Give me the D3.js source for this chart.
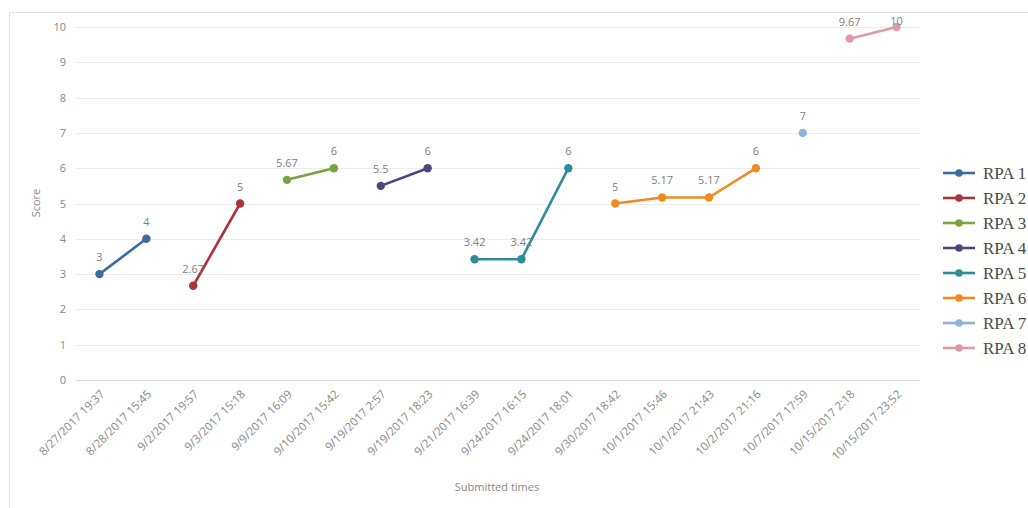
<!DOCTYPE html>
<html>
<head>
<meta charset="utf-8">
<script src="https://cdn.jsdelivr.net/npm/d3@7"></script>
<style>
  html, body { margin: 0; padding: 0; background: #fff; }
  svg { display: block; }
</style>
</head>
<body>
<svg id="chart" width="1028" height="508"></svg>
<script>
const categories = [
  "8/27/2017 19:37", "8/28/2017 15:45", "9/2/2017 19:57", "9/3/2017 15:18",
  "9/9/2017 16:09", "9/10/2017 15:42", "9/19/2017 2:57", "9/19/2017 18:23",
  "9/21/2017 16:39", "9/24/2017 16:15", "9/24/2017 18:01", "9/30/2017 18:42",
  "10/1/2017 15:46", "10/1/2017 21:43", "10/2/2017 21:16", "10/7/2017 17:59",
  "10/15/2017 2:18", "10/15/2017 23:52"
];
const scores = [3, 4, 2.67, 5, 5.67, 6, 5.5, 6, 3.42, 3.42, 6, 5, 5.17, 5.17, 6, 7, 9.67, 10];
const seriesIndex = [0, 0, 1, 1, 2, 2, 3, 3, 4, 4, 4, 5, 5, 5, 5, 6, 7, 7];
const seriesNames = ["RPA 1", "RPA 2", "RPA 3", "RPA 4", "RPA 5", "RPA 6", "RPA 7", "RPA 8"];
const seriesColors = ["#3d6aa0", "#a9343c", "#79a441", "#504579", "#2f8b9a", "#f28a20", "#8fb1da", "#d99ba6"];
const yTicks = [0, 1, 2, 3, 4, 5, 6, 7, 8, 9, 10];

const svg = d3.select("#chart");
const fontSans = "'Open Sans', 'Noto Sans', sans-serif";

// frame
svg.append("rect").attr("x", 9.5).attr("y", 12.5).attr("width", 1030).attr("height", 510)
  .attr("fill", "none").attr("stroke", "#e2e2e2").attr("stroke-width", 1);

const x = d3.scaleBand().domain(categories).range([76, 920]);
const y = d3.scaleLinear().domain([0, 10]).range([380, 27]);
const cx = c => x(c) + x.bandwidth() / 2;

// gridlines
svg.append("g").selectAll("line").data(yTicks).join("line")
  .attr("x1", 76).attr("x2", 920)
  .attr("y1", d => Math.round(y(d)) + 0.5).attr("y2", d => Math.round(y(d)) + 0.5)
  .attr("stroke", d => d === 0 ? "#dcdcdc" : "#ebebeb").attr("stroke-width", 1);

// y axis labels
const yAxis = d3.axisLeft(y).tickValues(yTicks).tickSize(0).tickPadding(0);
const gy = svg.append("g").attr("transform", "translate(66,0)").call(yAxis);
gy.select(".domain").remove();
gy.selectAll("text").attr("font-family", fontSans).attr("font-size", 11).attr("fill", "#888");

// x axis labels
const xAxis = d3.axisBottom(x).tickSize(0).tickPadding(0);
const gx = svg.append("g").attr("transform", "translate(0,388)").call(xAxis);
gx.select(".domain").remove();
gx.selectAll(".tick text")
  .attr("font-family", fontSans).attr("font-size", 11.5).attr("fill", "#888")
  .attr("text-anchor", "end").attr("dy", "0.35em")
  .attr("transform", "translate(3,4) rotate(-45)");

// axis titles
svg.append("text").attr("x", 497).attr("y", 491).attr("text-anchor", "middle")
  .attr("font-family", fontSans).attr("font-size", 11).attr("fill", "#888").text("Submitted times");
svg.append("text").attr("transform", "translate(40,203) rotate(-90)").attr("text-anchor", "middle")
  .attr("font-family", fontSans).attr("font-size", 11).attr("fill", "#888").text("Score");

// series
const points = categories.map((c, i) => ({ cat: c, v: scores[i], s: seriesIndex[i] }));
const groups = d3.groups(points, d => d.s);
const line = d3.line().x(d => cx(d.cat)).y(d => y(d.v));

const gs = svg.append("g");
groups.forEach(([s, pts]) => {
  const g = gs.append("g");
  if (pts.length > 1) {
    g.append("path").datum(pts).attr("d", line)
      .attr("fill", "none").attr("stroke", seriesColors[s]).attr("stroke-width", 2.6)
      .attr("stroke-linejoin", "round");
  }
  g.selectAll("circle").data(pts).join("circle")
    .attr("cx", d => cx(d.cat)).attr("cy", d => y(d.v)).attr("r", 4.2)
    .attr("fill", seriesColors[s]);
  g.selectAll("text").data(pts).join("text")
    .attr("x", d => cx(d.cat)).attr("y", d => Math.max(y(d.v) - 13, 25))
    .attr("text-anchor", "middle")
    .attr("font-family", fontSans).attr("font-size", 11).attr("fill", "#808080")
    .text(d => d.v);
});

// legend
const lg = svg.append("g");
seriesNames.forEach((n, i) => {
  const ly = 173 + i * 25;
  lg.append("line").attr("x1", 943).attr("x2", 975).attr("y1", ly).attr("y2", ly)
    .attr("stroke", seriesColors[i]).attr("stroke-width", 2.6);
  lg.append("circle").attr("cx", 959).attr("cy", ly).attr("r", 3.8).attr("fill", seriesColors[i]);
  lg.append("text").attr("x", 983).attr("y", ly).attr("dy", "0.35em")
    .attr("font-family", "'Liberation Serif', 'DejaVu Serif', serif").attr("font-size", 17)
    .attr("fill", "#4a4a4a").text(n);
});
</script>
</body>
</html>
